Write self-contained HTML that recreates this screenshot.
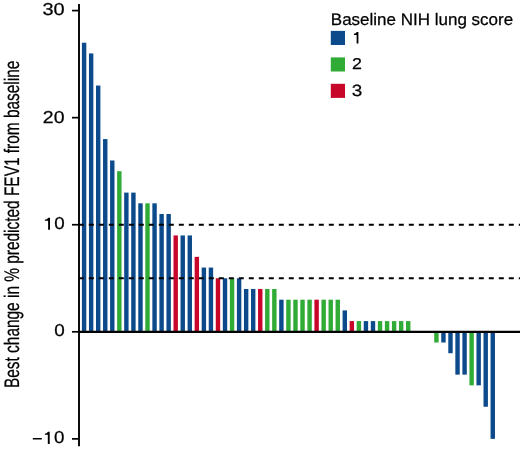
<!DOCTYPE html>
<html><head><meta charset="utf-8"><style>
html,body{margin:0;padding:0;background:#fff;}
body{width:520px;height:449px;overflow:hidden;}
svg{display:block;}
text{font-family:"Liberation Sans",sans-serif;fill:#000;stroke:#000;stroke-width:0.25px;text-rendering:geometricPrecision;}
svg{will-change:transform;}
</style></head><body>
<svg width="520" height="449" viewBox="0 0 520 449">
<rect x="81.90" y="42.71" width="4.4" height="289.09" fill="#0c4a8b"/><rect x="88.95" y="53.42" width="4.4" height="278.38" fill="#0c4a8b"/><rect x="95.99" y="85.54" width="4.4" height="246.26" fill="#0c4a8b"/><rect x="103.04" y="139.07" width="4.4" height="192.73" fill="#0c4a8b"/><rect x="110.08" y="160.49" width="4.4" height="171.31" fill="#0c4a8b"/><rect x="117.13" y="171.19" width="4.4" height="160.61" fill="#30ab35"/><rect x="124.18" y="192.61" width="4.4" height="139.19" fill="#0c4a8b"/><rect x="131.22" y="192.61" width="4.4" height="139.19" fill="#0c4a8b"/><rect x="138.27" y="203.32" width="4.4" height="128.48" fill="#0c4a8b"/><rect x="145.31" y="203.32" width="4.4" height="128.48" fill="#30ab35"/><rect x="152.36" y="203.32" width="4.4" height="128.48" fill="#0c4a8b"/><rect x="159.41" y="214.02" width="4.4" height="117.78" fill="#0c4a8b"/><rect x="166.45" y="214.02" width="4.4" height="117.78" fill="#0c4a8b"/><rect x="173.50" y="235.44" width="4.4" height="96.36" fill="#c8062a"/><rect x="180.54" y="235.44" width="4.4" height="96.36" fill="#0c4a8b"/><rect x="187.59" y="235.44" width="4.4" height="96.36" fill="#0c4a8b"/><rect x="194.64" y="256.85" width="4.4" height="74.95" fill="#c8062a"/><rect x="201.68" y="267.56" width="4.4" height="64.24" fill="#0c4a8b"/><rect x="208.73" y="267.56" width="4.4" height="64.24" fill="#0c4a8b"/><rect x="215.77" y="278.26" width="4.4" height="53.54" fill="#c8062a"/><rect x="222.82" y="278.26" width="4.4" height="53.54" fill="#0c4a8b"/><rect x="229.87" y="278.26" width="4.4" height="53.54" fill="#30ab35"/><rect x="236.91" y="278.26" width="4.4" height="53.54" fill="#0c4a8b"/><rect x="243.96" y="288.97" width="4.4" height="42.83" fill="#0c4a8b"/><rect x="251.00" y="288.97" width="4.4" height="42.83" fill="#0c4a8b"/><rect x="258.05" y="288.97" width="4.4" height="42.83" fill="#c8062a"/><rect x="265.10" y="288.97" width="4.4" height="42.83" fill="#30ab35"/><rect x="272.14" y="288.97" width="4.4" height="42.83" fill="#30ab35"/><rect x="279.19" y="299.68" width="4.4" height="32.12" fill="#0c4a8b"/><rect x="286.23" y="299.68" width="4.4" height="32.12" fill="#30ab35"/><rect x="293.28" y="299.68" width="4.4" height="32.12" fill="#30ab35"/><rect x="300.33" y="299.68" width="4.4" height="32.12" fill="#30ab35"/><rect x="307.37" y="299.68" width="4.4" height="32.12" fill="#30ab35"/><rect x="314.42" y="299.68" width="4.4" height="32.12" fill="#c8062a"/><rect x="321.46" y="299.68" width="4.4" height="32.12" fill="#30ab35"/><rect x="328.51" y="299.68" width="4.4" height="32.12" fill="#30ab35"/><rect x="335.56" y="299.68" width="4.4" height="32.12" fill="#30ab35"/><rect x="342.60" y="310.39" width="4.4" height="21.41" fill="#0c4a8b"/><rect x="349.65" y="321.09" width="4.4" height="10.71" fill="#c8062a"/><rect x="356.69" y="321.09" width="4.4" height="10.71" fill="#30ab35"/><rect x="363.74" y="321.09" width="4.4" height="10.71" fill="#0c4a8b"/><rect x="370.79" y="321.09" width="4.4" height="10.71" fill="#0c4a8b"/><rect x="377.83" y="321.09" width="4.4" height="10.71" fill="#30ab35"/><rect x="384.88" y="321.09" width="4.4" height="10.71" fill="#30ab35"/><rect x="391.92" y="321.09" width="4.4" height="10.71" fill="#30ab35"/><rect x="398.97" y="321.09" width="4.4" height="10.71" fill="#30ab35"/><rect x="406.02" y="321.09" width="4.4" height="10.71" fill="#30ab35"/><rect x="434.20" y="331.80" width="4.4" height="10.71" fill="#30ab35"/><rect x="441.25" y="331.80" width="4.4" height="10.71" fill="#0c4a8b"/><rect x="448.29" y="331.80" width="4.4" height="21.41" fill="#0c4a8b"/><rect x="455.34" y="331.80" width="4.4" height="42.83" fill="#0c4a8b"/><rect x="462.38" y="331.80" width="4.4" height="42.83" fill="#0c4a8b"/><rect x="469.43" y="331.80" width="4.4" height="53.54" fill="#30ab35"/><rect x="476.48" y="331.80" width="4.4" height="53.54" fill="#0c4a8b"/><rect x="483.52" y="331.80" width="4.4" height="74.95" fill="#0c4a8b"/><rect x="490.57" y="331.80" width="4.4" height="107.07" fill="#0c4a8b"/>
<line x1="78.8" y1="224.8" x2="520" y2="224.8" stroke="#000" stroke-width="2" stroke-dasharray="5 5"/>
<line x1="78.8" y1="278.3" x2="520" y2="278.3" stroke="#000" stroke-width="2" stroke-dasharray="5 5"/>
<line x1="79" y1="331.80" x2="520" y2="331.80" stroke="#000" stroke-width="2.2"/>
<line x1="79" y1="3.9" x2="79" y2="446.3" stroke="#000" stroke-width="1.9"/>
<line x1="72" y1="10.59" x2="79" y2="10.59" stroke="#000" stroke-width="1.7"/><line x1="72" y1="117.66" x2="79" y2="117.66" stroke="#000" stroke-width="1.7"/><line x1="72" y1="224.73" x2="79" y2="224.73" stroke="#000" stroke-width="1.7"/><line x1="72" y1="331.80" x2="79" y2="331.80" stroke="#000" stroke-width="1.7"/><line x1="72" y1="438.87" x2="79" y2="438.87" stroke="#000" stroke-width="1.7"/>
<text transform="translate(42.40,15.09) scale(1.1561,1)" style="font-size:17.30px">30</text><text transform="translate(42.80,122.51) scale(1.1272,1)" style="font-size:17.30px">20</text><text transform="translate(54.20,229.23) scale(1.0867,1)" style="font-size:17.30px">0</text><text transform="translate(54.15,336.30) scale(1.0925,1)" style="font-size:17.30px">0</text><text transform="translate(54.05,443.37) scale(1.0867,1)" style="font-size:17.30px">0</text>
<path d="M50.00,217.70 L50.00,229.80 L48.12,229.80 L48.12,220.66 L44.90,220.66 L44.90,219.45 C46.10,219.45 47.62,219.05 48.22,217.70 Z" fill="#000"/>
<path d="M49.70,431.80 L49.70,443.90 L47.82,443.90 L47.82,434.76 L44.90,434.76 L44.90,433.55 C46.10,433.55 47.32,433.15 47.92,431.80 Z" fill="#000"/>
<rect x="32.8" y="438.0" width="9.0" height="1.5" fill="#000"/>
<path d="M358.40,32.10 L358.40,43.50 L356.63,43.50 L356.63,34.89 L354.00,34.89 L354.00,33.75 C355.20,33.75 356.13,33.35 356.73,32.10 Z" fill="#000"/>
<text transform="translate(18.68,388.04) rotate(-90) scale(0.7331,1)" style="font-size:21.04px">Best change in % predicted FEV1 from baseline</text>
<text transform="translate(330.80,24.61) scale(1.0224,1)" style="font-size:16.64px">Baseline NIH lung score</text>
<rect x="330.8" y="30.9" width="14.2" height="14.1" fill="#0c4a8b"/>
<rect x="330.8" y="57.4" width="14.2" height="14.1" fill="#30ab35"/>
<rect x="330.8" y="83.8" width="14.2" height="14.1" fill="#c8062a"/>
<text transform="translate(351.95,69.23) scale(1.1335,1)" style="font-size:15.71px">2</text>
<text transform="translate(351.79,95.95) scale(1.1529,1)" style="font-size:16.34px">3</text>
</svg>
</body></html>
